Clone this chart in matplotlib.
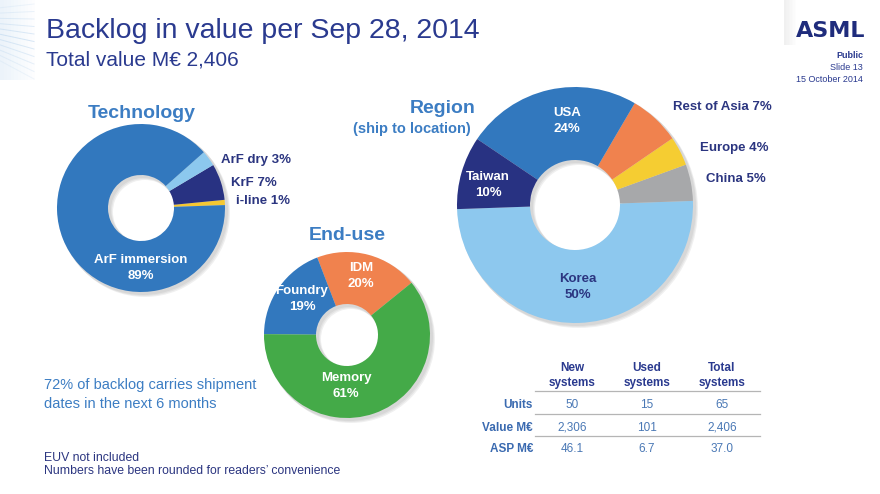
import numpy as np
import matplotlib
matplotlib.use('Agg')
import matplotlib.pyplot as plt
from matplotlib.patches import Wedge, Rectangle

plt.rcParams['font.family'] = ['Liberation Sans', 'DejaVu Sans']

# data
tech_labels = ['i-line', 'KrF', 'ArF dry', 'ArF immersion']
tech_share = [1, 7, 3, 89]
tech_colors = ['#F5C832', '#283282', '#8CC8EE', '#3278BE']

region_labels = ['Korea', 'China', 'Europe', 'Rest of Asia', 'USA', 'Taiwan']
region_share = [50, 5, 4, 7, 24, 10]
region_colors = ['#8DC8EE', '#A7A8AA', '#F5CD32', '#F0824E', '#3278BE', '#283282']

enduse_labels = ['IDM', 'Foundry', 'Memory']
enduse_share = [20, 19, 61]
enduse_colors = ['#F0824E', '#3278BE', '#44AA48']

table_cols = ['New\nsystems', 'Used\nsystems', 'Total\nsystems']
table_rows = ['Units', 'Value M€', 'ASP M€']
table_vals = [['50', '15', '65'],
              ['2,306', '101', '2,406'],
              ['46.1', '6.7', '37.0']]

NAVY = '#2A3A8F'
MID = '#3C7DC3'
H = 494


def Y(y):
    return H - y


fig = plt.figure(figsize=(8.8, 4.94), dpi=100)
ax = fig.add_axes([0, 0, 1, 1])


def donut(vals, colors, cx, cy, r, hole, start):
    # soft shadow
    for k, a in enumerate([0.05, 0.05, 0.06]):
        ax.add_patch(Wedge((cx + 2 + k, Y(cy) - 2 - k), r + 1, 0, 360,
                           width=r - hole + 2, color='#000000', alpha=a, lw=0))
    ax.pie(vals, colors=colors, center=(cx, Y(cy)), radius=r,
           startangle=start, counterclock=True,
           wedgeprops=dict(width=r - hole, linewidth=0))


donut(tech_share, tech_colors, 141, 208, 84, 33, 2)
donut(region_share, region_colors, 575, 205, 118, 45, 182)
donut(enduse_share, enduse_colors, 347, 335, 83, 31, 39)

ax.set_xlim(0, 880)
ax.set_ylim(0, H)
ax.set_aspect('auto')
ax.axis('off')

# top-left decoration
for i in range(10):
    ax.add_patch(Rectangle((i * 3.5, Y(80)), 3.5, 80, color='#D5E6F5',
                           alpha=0.45 * (1 - i / 10), lw=0))
for i in range(11):
    y0 = 4 + i * 7.5
    ax.plot([-20, 34], [Y(10 + i * 4), Y(y0)], color='#B8D4EE', lw=0.7,
            alpha=0.55 * (1 - abs(i - 5) / 8))
# top-right shadow band
for i in range(8):
    ax.add_patch(Rectangle((784 + i * 1.5, Y(45)), 1.5, 45, color='#999999',
                           alpha=0.018 * (8 - i), lw=0))

# header
ax.text(46, Y(28), 'Backlog in value per Sep 28, 2014', fontsize=20.5,
        color=NAVY, va='center_baseline', ha='left')
ax.text(46, Y(58), 'Total value M€ 2,406', fontsize=15, color=NAVY,
        va='center_baseline', ha='left')
ax.text(865, Y(29), 'ASML', fontsize=16, fontweight='heavy', color='#1F2C7C',
        va='center_baseline', ha='right', family='DejaVu Sans')
ax.text(863, Y(55), 'Public', fontsize=6.5, fontweight='bold', color=NAVY,
        va='center_baseline', ha='right')
ax.text(863, Y(67), 'Slide 13', fontsize=6.5, color=NAVY, va='center_baseline', ha='right')
ax.text(863, Y(79), '15 October 2014', fontsize=6.5, color=NAVY,
        va='center_baseline', ha='right')

# chart titles
ax.text(142, Y(111), 'Technology', fontsize=14, fontweight='bold', color=MID,
        ha='center', va='center_baseline')
ax.text(476, Y(107), 'Region', fontsize=14, fontweight='bold', color=MID,
        ha='right', va='center_baseline')
ax.text(471, Y(128), '(ship to location)', fontsize=10.5, fontweight='bold',
        color=MID, ha='right', va='center_baseline')
ax.text(347, Y(233), 'End-use', fontsize=14, fontweight='bold', color=MID,
        ha='center', va='center_baseline')

lab = dict(fontsize=9.5, fontweight='bold', ha='center', va='center',
           linespacing=1.35)


def pct(names, vals, name):
    return f"{name}\n{vals[names.index(name)]}%"


def pct1(names, vals, name):
    return f"{name} {vals[names.index(name)]}%"


# technology labels
ax.text(141, Y(268), pct(tech_labels, tech_share, 'ArF immersion'), color='white', **lab)
out = dict(fontsize=9.5, fontweight='bold', color='#2B3580', va='center_baseline', ha='left')
ax.text(221, Y(158), pct1(tech_labels, tech_share, 'ArF dry'), **out)
ax.text(231, Y(181), pct1(tech_labels, tech_share, 'KrF'), **out)
ax.text(236, Y(199), pct1(tech_labels, tech_share, 'i-line'), **out)

# region labels
ax.text(567, Y(121), pct(region_labels, region_share, 'USA'), color='white', **lab)
ax.text(488, Y(185), pct(region_labels, region_share, 'Taiwan'), color='white', **lab)
ax.text(578, Y(287), pct(region_labels, region_share, 'Korea'), color='#2B3580', **lab)
out_r = dict(out, ha='right')
ax.text(772, Y(106), pct1(region_labels, region_share, 'Rest of Asia'), **out_r)
ax.text(769, Y(146), pct1(region_labels, region_share, 'Europe'), **out_r)
ax.text(766, Y(178), pct1(region_labels, region_share, 'China'), **out_r)

# end-use labels
ax.text(361, Y(276), pct(enduse_labels, enduse_share, 'IDM'), color='white', **lab)
ax.text(302, Y(299), pct(enduse_labels, enduse_share, 'Foundry'), color='white', **lab)
ax.text(346, Y(386), pct(enduse_labels, enduse_share, 'Memory'), color='white', **lab)

# notes
ax.text(44, Y(384), '72% of backlog carries shipment', fontsize=10.5, color=MID,
        va='center_baseline', ha='left')
ax.text(44, Y(402), 'dates in the next 6 months', fontsize=10.5, color=MID,
        va='center_baseline', ha='left')
ax.text(44, Y(456), 'EUV not included', fontsize=8.8, color='#2B3580',
        va='center_baseline', ha='left')
ax.text(44, Y(469), 'Numbers have been rounded for readers\u2019 convenience',
        fontsize=8.8, color='#2B3580', va='center_baseline', ha='left')

# table
col_x = [572, 647, 722]
row_y = [403, 426, 447]
for x, c in zip(col_x, table_cols):
    ax.text(x, Y(375.5), c, fontsize=8.5, fontweight='bold', color=NAVY,
            ha='center', va='center', linespacing=1.3)
for y in [391, 414, 436]:
    ax.plot([535, 760], [Y(y), Y(y)], color='#B5B5B5', lw=0.9)
for y, r, vals in zip(row_y, table_rows, table_vals):
    ax.text(533, Y(y), r, fontsize=8.5, fontweight='bold', color='#3A6AB0',
            ha='right', va='center_baseline')
    for x, v in zip(col_x, vals):
        ax.text(x, Y(y), v, fontsize=8.5, color='#4A78B5', ha='center',
                va='center_baseline')

fig.savefig('out.png', dpi=100)
